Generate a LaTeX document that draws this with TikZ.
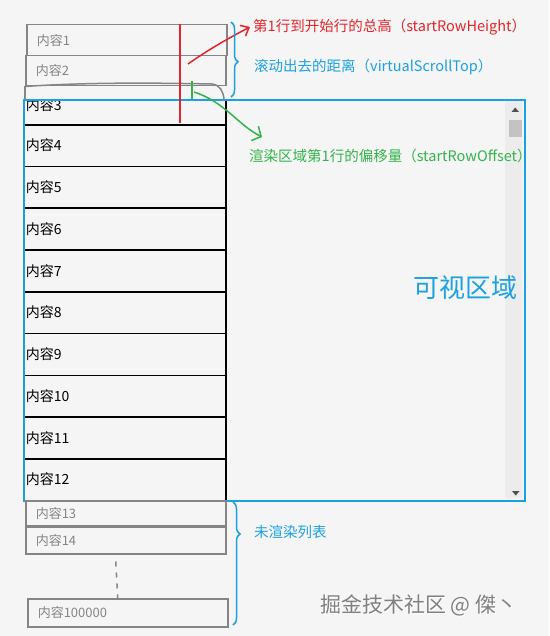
\documentclass[tikz,border=0pt]{standalone}
\usepackage{fontspec}
\setmainfont{Noto Sans CJK SC}
\usetikzlibrary{positioning,arrows.meta,decorations.pathreplacing}

\definecolor{bg}{HTML}{F5F5F5}
\definecolor{viewblue}{HTML}{1BA1E2}
\definecolor{markred}{HTML}{E0262C}
\definecolor{markgreen}{HTML}{33B44A}
\definecolor{sketchgray}{HTML}{858585}
\definecolor{track}{HTML}{ECECEC}
\definecolor{thumbgray}{HTML}{C3C3C3}
\definecolor{tipgray}{HTML}{505050}

\begin{document}
\begin{tikzpicture}[x=1pt, y=-1pt,
      every node/.style={inner sep=0pt, font=\fontsize{14.5}{16}\selectfont},
      listrow/.style={draw=black, line width=1.5pt, anchor=north west,
        minimum width=202, minimum height=41.75, text width=198, inner xsep=2pt,
        align=left, font=\fontsize{14}{16}\selectfont},
      oldrow/.style={draw=sketchgray, line width=1.5pt, text=sketchgray, anchor=north west,
        minimum height=#1, text width=180, inner xsep=10pt, align=left,
        font=\fontsize{13}{16}\selectfont},
      sketch/.style={draw=sketchgray, line width=1.5pt},
      viewbox/.style={draw=viewblue, line width=2pt, anchor=north west,
        minimum width=501, minimum height=401},
      bracket/.style={draw=viewblue, line width=1.5pt, decorate,
        decoration={brace, amplitude=7pt, aspect=#1}}
    ]
      \useasboundingbox (0,0) rectangle (549,636);
      \fill[bg] (0,0) rectangle (549,636);

      % rows above the view
      \node[oldrow=31] (item1) at (26,24) {内容1};
      \node[oldrow=30] (item2) at (25,55) {内容2};
      \draw[sketch] (item2.south west) -- (25,99);
      \draw[sketch] (item2.south west) .. controls (90,82) and (160,83) .. (212,84)
        .. controls (220,85) and (223,91) .. (224,99);

      % rendered rows
      \begin{scope}
        \clip (20,100) rectangle (230,130);
        \node[listrow] (row3) at (23,83.25) {内容3};
      \end{scope}
      \foreach \i [evaluate=\i as \y using {124+(\i-4)*41.75}] in {4,...,12}
        \node[listrow] (row\i) at (23,\y) {\raisebox{-1.5pt}{内容\i}};

      % scrollbar
      \fill[track] (505,101) rectangle (522,498);
      \fill[thumbgray] (509,120) rectangle (522,137);
      \fill[tipgray] (511.5,112) -- (519,112) -- (515.2,107.5) -- cycle;
      \fill[tipgray] (512,491) -- (519.5,491) -- (515.8,495.5) -- cycle;

      \node[viewbox] (view) at (23,99) {};
      \node[text=viewblue, font=\fontsize{26}{28}\selectfont] (viewlabel) at (465,288) {可视区域};

      % rows below the view
      \node[oldrow=25] (item13) at (25,500) {内容13};
      \node[oldrow=27] (item14) at (25,526) {内容14};
      \node[oldrow=28] (itemlast) at (27,598) {内容100000};
      \draw[sketch, dash pattern=on 5pt off 6pt] ([xshift=-10pt, yshift=-7pt]item14.south)
        -- ([xshift=-10pt]itemlast.north);

      % measures
      \coordinate (redtop) at (180,24);
      \coordinate (redbot) at (180,123);
      \draw[markred, line width=1.5pt] (redtop) -- (redbot);
      \coordinate (greentop) at (192,81);
      \coordinate (greenbot) at (192,99);
      \draw[markgreen, line width=1.5pt] (greentop) -- (greenbot);

      \node[anchor=west, text=markred] (hlabel) at (253,27) {第1行到开始行的总高（startRowHeight）};
      \node[anchor=west, text=viewblue] (toplabel) at (254,67) {滚动出去的距离（virtualScrollTop）};
      \node[anchor=west, text=markgreen] (offlabel) at (249,156) {渲染区域第1行的偏移量（startRowOffset）};
      \node[anchor=west, text=viewblue] (restlabel) at (254,532) {未渲染列表};

      \coordinate (redfrom) at (188,64);
      \draw[markred, line width=1.5pt, -{Straight Barb[length=7pt, width=12pt]}]
        (redfrom) .. controls (205,52) and (225,40) .. ([xshift=-3pt]hlabel.west);
      \coordinate (greenfrom) at (194,92);
      \coordinate (greento) at (262,137);
      \draw[markgreen, line width=1.5pt, -{Straight Barb[length=7pt, width=16pt]}]
        (greenfrom) .. controls (225,102) and (238,125) .. (greento);

      \draw[bracket=0.53] (231,22) -- (231,97);
      \draw[bracket=0.26] (233,502) -- (233,625);

      % watermark
      \node[anchor=west, text=white, font=\fontsize{21}{24}\selectfont] (markshade) at (321,606) {掘金技术社区 @ 傑丶};
      \node[anchor=west, text=gray, font=\fontsize{21}{24}\selectfont] (mark) at (320,605) {掘金技术社区 @ 傑丶};
    \end{tikzpicture}
\end{document}
